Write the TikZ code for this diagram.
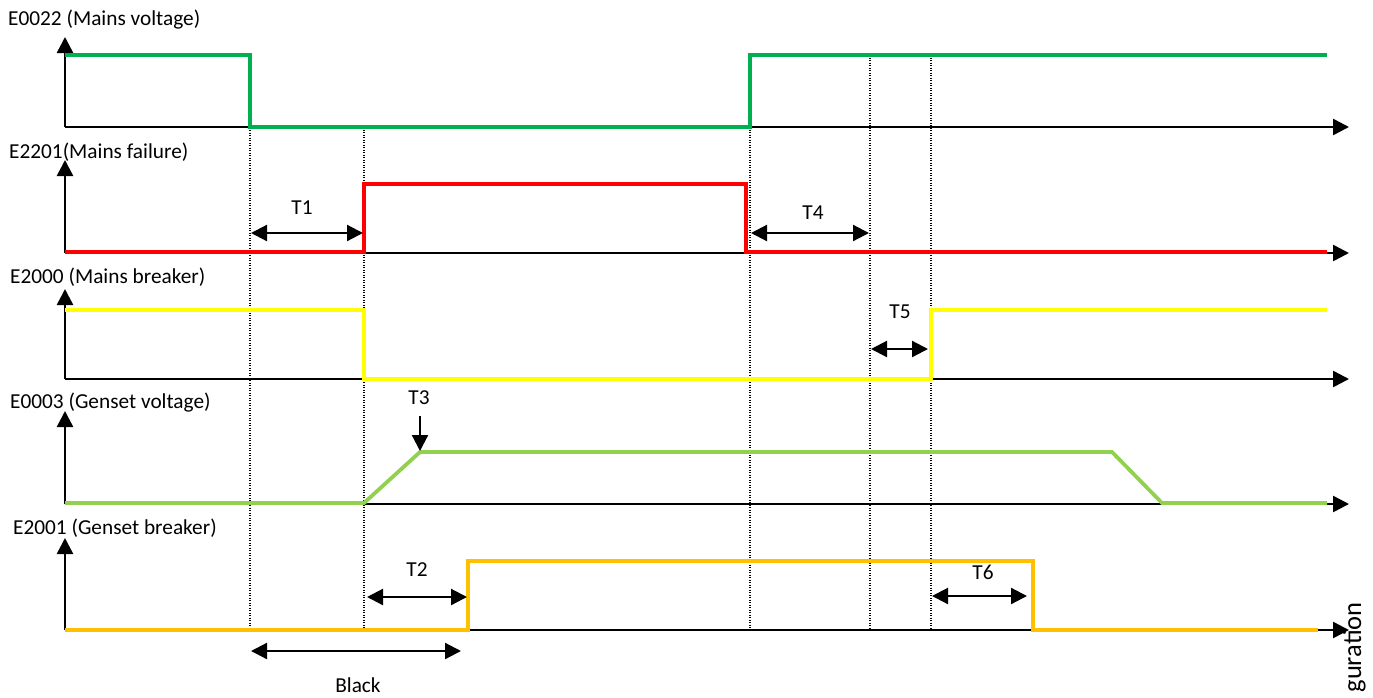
\documentclass[tikz,border=0pt]{standalone}
\usepackage{fontspec}
\setmainfont{Carlito}
\usetikzlibrary{arrows.meta}
\definecolor{mgreen}{HTML}{00B050}
\definecolor{lgreen}{HTML}{92D050}
\definecolor{mred}{HTML}{FF0000}
\definecolor{myellow}{HTML}{FFFF00}
\definecolor{morange}{HTML}{FFC000}
\begin{document}
\begin{tikzpicture}[x=1pt,y=-1pt,
  axisline/.style={line width=2.5pt,-{Triangle[length=16pt,width=16pt]}},
  sig/.style={line width=3.8pt,line join=miter},
  guide/.style={line width=1.3pt,dash pattern=on 1pt off 1.5pt},
  span/.style={line width=2.2pt,{Triangle[length=16pt,width=16pt]}-{Triangle[length=16pt,width=16pt]}},
  ptr/.style={line width=2.2pt,-{Triangle[length=16pt,width=16pt]}},
  lab/.style={font=\fontsize{21.3}{25}\selectfont,inner sep=0pt},
  tlab/.style={font=\fontsize{21.3}{25}\selectfont,inner sep=0pt,anchor=base}]
\useasboundingbox (0,0) rectangle (1373,697);
% axes
\foreach \b/\t [count=\i] in {127/37,253/160,379/289,504/411,630/538}{
  \coordinate (o\i) at (65,\b);
  \coordinate (xe\i) at (1349,\b);
  \coordinate (ye\i) at (65,\t);
  \draw[axisline] (o\i) -- (xe\i);
  \draw[axisline] (o\i) -- (ye\i);
}
% labels
\node[lab,anchor=base west] (l1) at (8,25) {E0022 (Mains voltage)};
\node[lab,anchor=base west] (l2) at (9,158) {E2201(Mains failure)};
\node[lab,anchor=base west] (l3) at (10,283) {E2000 (Mains breaker)};
\node[lab,anchor=base west] (l4) at (10,408) {E0003 (Genset voltage)};
\node[lab,anchor=base west] (l5) at (13,534) {E2001 (Genset breaker)};
% guides
\draw[guide] (250,55) -- (250,630);
\draw[guide] (364,127) -- (364,630);
\draw[guide] (750,127) -- (750,630);
\draw[guide] (870,55) -- (870,630);
\draw[guide] (931,55) -- (931,630);
% signals
\draw[sig,mgreen] (65,55) -- (250,55) -- (250,127) -- (750,127) -- (750,55) -- (1327,55);
\draw[sig,mred] (65,252) -- (364,252) -- (364,184) -- (746,184) -- (746,252) -- (1327,252);
\draw[sig,myellow] (65,310) -- (364,310) -- (364,379) -- (931,379) -- (931,310) -- (1327,310);
\draw[sig,lgreen] (65,503) -- (364,503) -- (420,452) -- (1112,452) -- (1162,503) -- (1327,503);
\draw[sig,morange] (65,630) -- (468,630) -- (468,561) -- (1033,561) -- (1033,630) -- (1318,630);
% spans
\coordinate (t1a) at (251,233); \coordinate (t1b) at (363,233);
\draw[span] (t1a) -- (t1b);
\node[tlab] (t1) at (302,214) {T1};
\coordinate (t4a) at (751,233); \coordinate (t4b) at (869,233);
\draw[span] (t4a) -- (t4b);
\node[tlab] (t4) at (813,219) {T4};
\coordinate (t5a) at (871,349); \coordinate (t5b) at (928,349);
\draw[span] (t5a) -- (t5b);
\node[tlab] (t5) at (900,318) {T5};
\coordinate (t2a) at (367,597); \coordinate (t2b) at (467,597);
\draw[span] (t2a) -- (t2b);
\node[tlab] (t2) at (417,576) {T2};
\coordinate (t6a) at (932,596); \coordinate (t6b) at (1027,596);
\draw[span] (t6a) -- (t6b);
\node[tlab] (t6) at (983,579) {T6};
\coordinate (bka) at (251,651); \coordinate (bkb) at (461,651);
\draw[span] (bka) -- (bkb);
\node[tlab] (bk) at (358,692) {Black};
% T3 pointer
\coordinate (t3a) at (420,416); \coordinate (t3b) at (420,451);
\draw[ptr] (t3a) -- (t3b);
\node[tlab] (t3) at (419,404) {T3};
% side text (cropped in the source)
\node[lab,rotate=90,anchor=base east,font=\fontsize{26.5}{29}\selectfont] (side) at (1361,602) {guration};
\end{tikzpicture}
\end{document}
